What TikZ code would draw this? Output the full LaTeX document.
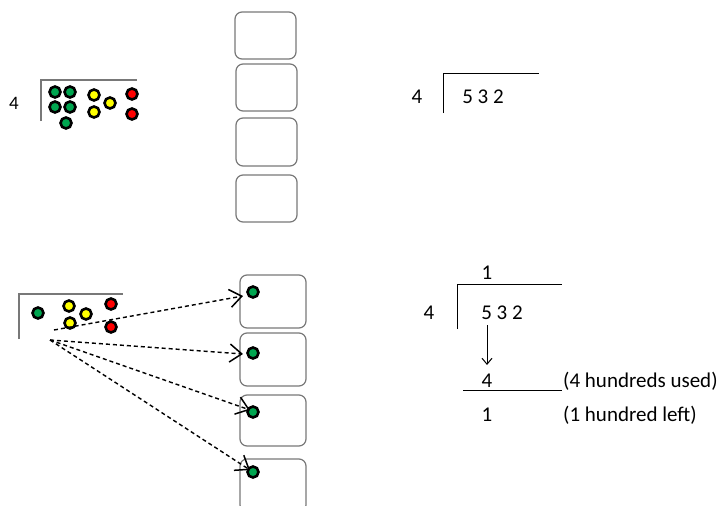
\documentclass[tikz,border=0pt]{standalone}
\usepackage{fontspec}
\setmainfont{Carlito}
\usetikzlibrary{arrows.meta}
\definecolor{dotgreen}{RGB}{0,166,80}
\definecolor{dotyellow}{RGB}{255,255,0}
\definecolor{dotred}{RGB}{255,0,0}
\definecolor{boxgray}{RGB}{120,120,120}
\begin{document}
\begin{tikzpicture}[x=1pt,y=-1pt,
    dot/.style={circle, draw=black, line width=2.6pt, inner sep=0pt, minimum size=11pt},
    gdot/.style={dot, fill=dotgreen},
    ydot/.style={dot, fill=dotyellow},
    rdot/.style={dot, fill=dotred},
    box/.style={draw=boxgray, line width=1.2pt, rounded corners=7pt, inner sep=0pt, minimum width=61pt, minimum height=47pt},
    bigbox/.style={box, minimum width=66pt, minimum height=53pt},
    num/.style={font=\fontsize{21}{25}\selectfont, inner sep=0pt},
    share/.style={->, dashed, line width=1.4pt, dash pattern=on 4pt off 3pt, >={Straight Barb[length=12pt,width=18pt,line width=1.5pt]}}]
    \useasboundingbox (0,0) rectangle (724,506);
    % top left: sharing the counters
    \node[num, font=\fontsize{19}{22}\selectfont] (tldiv) at (14,103) {4};
    \draw[line width=1.2pt, boxgray] (41,121) -- (41,80) -- (137,80);
    \node[gdot] (tg1) at (55,92) {};
    \node[gdot] (tg2) at (70,92) {};
    \node[gdot] (tg3) at (55,107) {};
    \node[gdot] (tg4) at (70,107) {};
    \node[gdot] (tg5) at (66,123) {};
    \node[ydot] (ty1) at (94,95) {};
    \node[ydot] (ty2) at (110,103) {};
    \node[ydot] (ty3) at (94,112) {};
    \node[rdot] (tr1) at (132,94) {};
    \node[rdot] (tr2) at (132,114) {};
    % top boxes
    \node[box] (box1) at (265.5,35.5) {};
    \node[box] (box2) at (266.5,87.5) {};
    \node[box, minimum height=48pt] (box3) at (266.5,142) {};
    \node[box] (box4) at (266.5,198.5) {};
    % top right
    \node[num] (trdiv) at (417,97) {4};
    \draw[line width=1pt] (443,113) -- (443,73) -- (539,73);
    \node[num] (trnum) at (483,97) {5 3 2};
    % bottom left
    \draw[line width=1.2pt, boxgray] (19,339) -- (19,294) -- (123,294);
    \node[gdot] (bg1) at (38,313) {};
    \node[ydot] (by1) at (69,306) {};
    \node[ydot] (by2) at (86,314) {};
    \node[ydot] (by3) at (70,323) {};
    \node[rdot] (br1) at (111,304) {};
    \node[rdot] (br2) at (111,327) {};
    % bottom boxes
    \node[bigbox] (bbox1) at (273,301.5) {};
    \node[bigbox] (bbox2) at (273,359.5) {};
    \node[bigbox, minimum height=51pt] (bbox3) at (273,420.5) {};
    \node[bigbox] (bbox4) at (273,485.5) {};
    \node[gdot] (d1) at (253,292) {};
    \node[gdot] (d2) at (253,353) {};
    \node[gdot] (d3) at (253,412) {};
    \node[gdot] (d4) at (253,472) {};
    \coordinate (src1) at (54,330);
    \coordinate (src) at (50,340);
    \draw[share] (src1) -- (243,296);
    \draw[share] (src) -- (243,354);
    \draw[share] (src) -- (250,410);
    \draw[share] (src) -- (250,470);
    % bottom right
    \node[num] (quot) at (487,273) {1};
    \draw[line width=1pt] (457,329) -- (457,284) -- (562,284);
    \node[num] (brdiv) at (429,313) {4};
    \node[num] (brnum) at (502,313) {5 3 2};
    \draw[->, line width=1pt, >={Straight Barb[length=6pt,width=10pt]}] (487,325) -- (487,365);
    \node[num] (used) at (487,381) {4};
    \draw[line width=1pt] (463,390) -- (562,390);
    \node[num] (left) at (487,415) {1};
    \node[num, anchor=west] (usedtxt) at (563,381) {(4 hundreds used)};
    \node[num, anchor=west] (lefttxt) at (563,415) {(1 hundred left)};
\end{tikzpicture}
\end{document}
